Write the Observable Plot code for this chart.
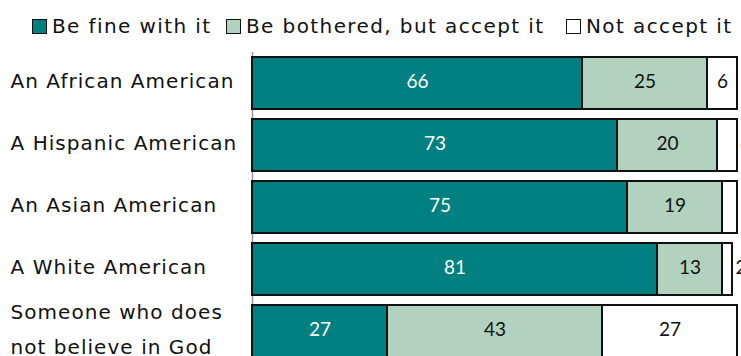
<!DOCTYPE html>
<html>
<head>
<meta charset="utf-8">
<script src="https://cdn.jsdelivr.net/npm/d3@7"></script>
<script src="https://cdn.jsdelivr.net/npm/@observablehq/plot@0.6"></script>
<style>
  html, body { margin: 0; padding: 0; background: #fff; }
  #wrap { width: 741px; height: 356px; overflow: hidden; position: relative; }
  #legend { position: relative; height: 45px; font-family: "DejaVu Sans", sans-serif; font-size: 20px; letter-spacing: 1.4px; color: #111; }
  .item { position: absolute; top: 14px; display: flex; align-items: center; white-space: nowrap; }
  .sw { width: 13px; height: 13px; border: 1.5px solid #111; margin-right: 5px; box-sizing: content-box; }
</style>
</head>
<body>
<div id="wrap">
  <div id="legend"></div>
  <div id="chart"></div>
</div>
<script>
const categories = [
  "An African American",
  "A Hispanic American",
  "An Asian American",
  "A White American",
  "Someone who does\nnot believe in God"
];
const responses = ["Be fine with it", "Be bothered, but accept it", "Not accept it"];
const fine = [66, 73, 75, 81, 27];
const bothered = [25, 20, 19, 13, 43];
const notAccept = [6, 4, 3, 2, 27];
const colors = ["#008080", "#b3d1bf", "#ffffff"];

const series = [fine, bothered, notAccept];
const data = [];
categories.forEach((c, i) => {
  responses.forEach((r, j) => {
    data.push({category: c, response: r, value: series[j][i]});
  });
});

// Legend
const legendLeft = [32, 226, 566];
const legend = document.getElementById("legend");
responses.forEach((r, j) => {
  const it = document.createElement("div");
  it.className = "item";
  it.style.left = legendLeft[j] + "px";
  const sw = document.createElement("div");
  sw.className = "sw";
  sw.style.background = colors[j];
  const t = document.createElement("span");
  t.textContent = r;
  it.appendChild(sw);
  it.appendChild(t);
  legend.appendChild(it);
});

const chart = Plot.plot({
  width: 741,
  height: 311,
  marginLeft: 252,
  marginRight: 0,
  marginTop: 7,
  marginBottom: 0,
  style: {fontFamily: "Lato, sans-serif", fontSize: "19px", background: "#fff"},
  x: {domain: [0, 97.8], axis: null},
  y: {domain: categories, range: [7, 317], paddingInner: 0.16, paddingOuter: 0.08, axis: null},
  color: {domain: responses, range: colors},
  marks: [
    Plot.ruleX([0], {stroke: "#999", strokeWidth: 1.5}),
    Plot.barX(data, Plot.stackX({x: "value", y: "category", fill: "response", stroke: "#111", strokeWidth: 2})),
    Plot.text(data, Plot.stackX({x: "value", y: "category", text: d => d.response === responses[0] ? String(d.value) : "", fill: "#fff", dy: -2})),
    Plot.text(data, Plot.stackX({x: "value", y: "category", text: d => d.response !== responses[0] && d.value >= 5 ? String(d.value) : "", fill: "#111", dy: -2})),
    Plot.text(data, Plot.stackX2({x: "value", y: "category", text: d => d.value < 5 ? String(d.value) : "", fill: "#111", textAnchor: "start", dx: 3, dy: -2})),
    Plot.text(categories.slice(0, 4), {y: d => d, frameAnchor: "left", dx: -242, dy: -2, textAnchor: "start", fill: "#111", fontFamily: "DejaVu Sans", fontSize: 20}),
    Plot.text(categories.slice(4), {y: d => d, frameAnchor: "left", dx: -242, dy: -6, textAnchor: "start", fill: "#111", fontFamily: "DejaVu Sans", fontSize: 20, lineHeight: 1.75})
  ]
});
d3.select(chart).selectAll('g[font-family="DejaVu Sans"]').attr("letter-spacing", "1.05px");
document.getElementById("chart").appendChild(chart);
</script>
</body>
</html>
